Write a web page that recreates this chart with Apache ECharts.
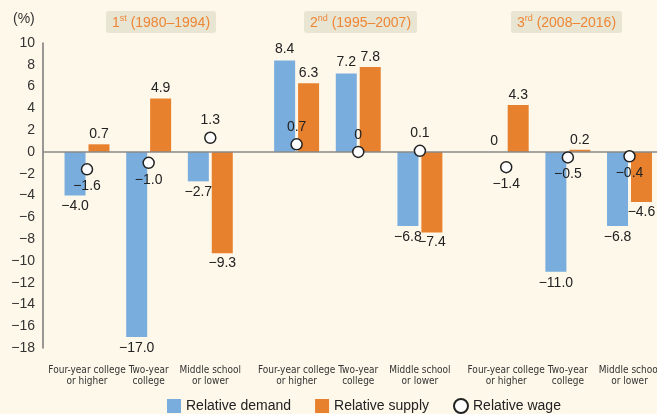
<!DOCTYPE html>
<html>
<head>
<meta charset="utf-8">
<script src="https://cdn.jsdelivr.net/npm/echarts@6/dist/echarts.min.js"></script>
<style>
html,body{margin:0;padding:0;background:#FEF8EA;}
#c{width:657px;height:414px;}
</style>
</head>
<body>
<div id="c"></div>
<script>
// ---- data ----
const periods = ['1st (1980–1994)', '2nd (1995–2007)', '3rd (2008–2016)'];
const categories = ['Four-year college\nor higher', 'Two-year\ncollege', 'Middle school\nor lower'];
const demand = [-4.0, -17.0, -2.7, 8.4, 7.2, -6.8, 0, -11.0, -6.8];
const supply = [0.7, 4.9, -9.3, 6.3, 7.8, -7.4, 4.3, 0.2, -4.6];
const wage = [-1.6, -1.0, 1.3, 0.7, 0, 0.1, -1.4, -0.5, -0.4];
const yMin = -18, yMax = 10, yStep = 2;

// ---- pick a condensed font if available ----
function hasFont(name) {
  const c = document.createElement('canvas').getContext('2d');
  const s = 'Four-year college or higher';
  c.font = '12px monospace';
  const a = c.measureText(s).width;
  c.font = '12px "' + name + '", monospace';
  const b = c.measureText(s).width;
  return Math.abs(a - b) > 0.5;
}
let narrowFont = null, narrowSize = 11;
if (hasFont('Liberation Sans Narrow')) { narrowFont = '"Liberation Sans Narrow"'; narrowSize = 11.5; }
else if (hasFont('DejaVu Sans Condensed')) { narrowFont = '"DejaVu Sans Condensed"'; narrowSize = 10; }
else if (hasFont('Roboto Condensed')) { narrowFont = '"Roboto Condensed"'; narrowSize = 11.5; }
else { narrowFont = '"Liberation Sans"'; narrowSize = 10; }

// ---- layout helpers ----
const GROUP_STEP = 3.4; // 3 categories + gap
const pos = demand.map((_, i) => Math.floor(i / 3) * GROUP_STEP + (i % 3));
const fmt = v => v === 0 ? '0' : (v < 0 ? '\u2212' : '') + Math.abs(v).toFixed(1);
const fmtTick = v => (v < 0 ? '\u2212' : '') + Math.abs(v);

const valFont = { fontSize: 14, color: '#222', fontFamily: 'Liberation Sans, Arial, sans-serif' };

function barData(arr) {
  return arr.map((v, i) => ({
    value: [pos[i], v],
    label: { position: v >= 0 ? 'top' : 'bottom' }
  }));
}

const chart = echarts.init(document.getElementById('c'), null, { renderer: 'canvas' });
const headerCenters = [161, 360.5, 566.5];

chart.setOption({
  backgroundColor: '#FEF8EA',
  animation: false,
  textStyle: { fontFamily: 'Liberation Sans, Arial, sans-serif' },
  grid: { left: 43, right: 0, top: 43, bottom: 66, containLabel: false },
  legend: {
    left: 167, top: 398, padding: 0,
    itemWidth: 14, itemHeight: 14, itemGap: 24,
    textStyle: { fontSize: 14, color: '#222' },
    data: [
      { name: 'Relative demand', icon: 'rect' },
      { name: 'Relative supply', icon: 'rect' },
      { name: 'Relative wage', icon: 'circle' }
    ]
  },
  xAxis: {
    type: 'value',
    min: -0.714, max: 9.246,
    axisLine: { show: false, onZero: false },
    axisTick: { show: false },
    splitLine: { show: false },
    axisLabel: { show: false }
  },
  yAxis: {
    type: 'value',
    min: yMin, max: yMax, interval: yStep,
    axisLine: { show: true, onZero: false, lineStyle: { color: '#777', width: 1.5 } },
    axisTick: { show: false },
    splitLine: { show: false },
    axisLabel: { formatter: fmtTick, fontSize: 14, color: '#333', margin: 8 }
  },
  graphic: [
    { type: 'text', left: 13, top: 12, style: { text: '(%)', fontSize: 14, fill: '#333', fontFamily: 'Liberation Sans, Arial, sans-serif' } }
  ].concat(periods.map((p, k) => {
    const m = p.match(/^(\d)(st|nd|rd) (.*)$/);
    return {
      type: 'text', x: headerCenters[k], y: 22,
      style: {
        text: '{n|' + m[1] + '}{s|' + m[2] + '}{n| ' + m[3] + '}',
        align: 'center', verticalAlign: 'middle',
        backgroundColor: '#E8E5D2', padding: [3, 6, 3, 6], borderRadius: 3,
        rich: {
          n: { fontSize: 14, fill: '#EE8636', color: '#EE8636', fontFamily: 'Liberation Sans, Arial, sans-serif', verticalAlign: 'bottom', lineHeight: 16 },
          s: { fontSize: 9, fill: '#EE8636', color: '#EE8636', fontFamily: 'Liberation Sans, Arial, sans-serif', verticalAlign: 'top', lineHeight: 16 }
        }
      }
    };
  })),
  series: [
    {
      name: 'Relative demand', type: 'bar',
      barWidth: 21, barGap: '14%',
      itemStyle: { color: '#79ADDD' },
      label: Object.assign({ show: true, distance: 4, formatter: p => fmt(p.value[1]) }, valFont),
      data: barData(demand),
      markLine: {
        silent: true, symbol: 'none', animation: false,
        label: { show: false },
        lineStyle: { color: '#888', width: 1.5, type: 'solid' },
        data: [{ yAxis: 0 }]
      }
    },
    {
      name: 'Relative supply', type: 'bar',
      barWidth: 21, barGap: '14%',
      itemStyle: { color: '#E8812D' },
      label: Object.assign({ show: true, distance: 3, formatter: p => fmt(p.value[1]) }, valFont),
      data: barData(supply)
    },
    {
      name: 'Relative wage', type: 'scatter',
      symbol: 'circle', symbolSize: 11, z: 5,
      itemStyle: { color: '#fff', borderColor: '#222', borderWidth: 1.5, opacity: 1 },
      label: Object.assign({ show: true, distance: 4, formatter: p => fmt(p.value[1]) }, valFont),
      data: wage.map((v, i) => ({ value: [pos[i], v], label: { position: v >= 0 ? 'top' : 'bottom' } }))
    },
    {
      name: 'categoryLabels', type: 'scatter',
      symbol: 'circle', symbolSize: 1, silent: true, clip: false,
      itemStyle: { color: 'rgba(0,0,0,0)', opacity: 1 },
      label: {
        show: true, position: 'bottom', distance: 17,
        formatter: p => categories[p.dataIndex % 3],
        fontFamily: narrowFont, fontSize: narrowSize, lineHeight: 10.5, color: '#333', align: 'center'
      },
      labelLayout: { hideOverlap: false },
      data: pos.map(p => [p, yMin])
    }
  ]
});
</script>
</body>
</html>
